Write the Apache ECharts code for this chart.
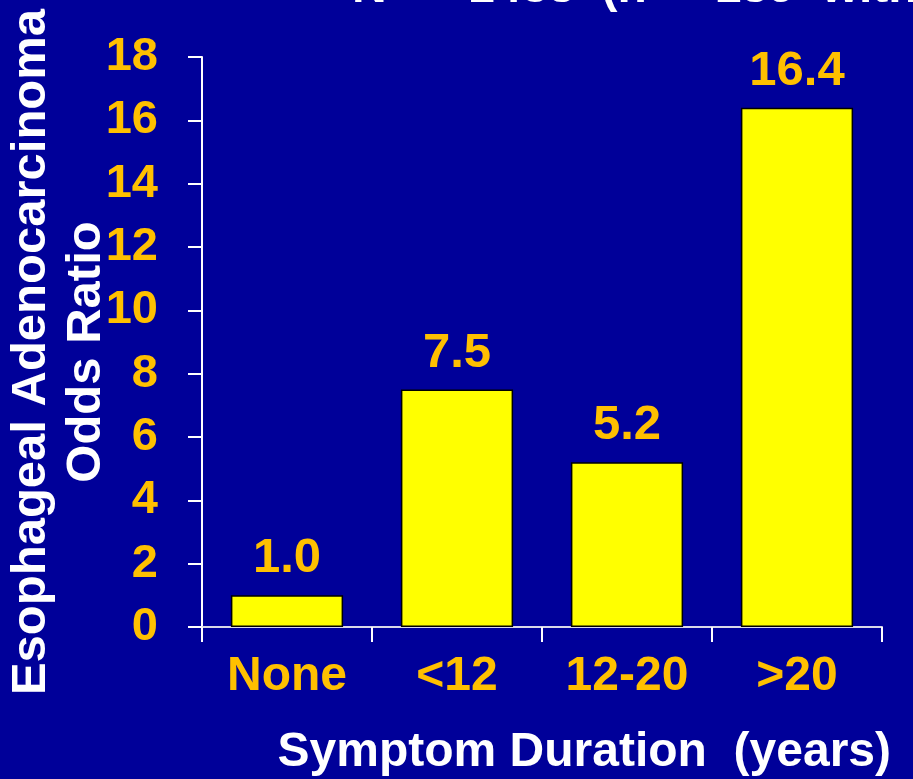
<!DOCTYPE html>
<html><head><meta charset="utf-8">
<script src="https://cdn.jsdelivr.net/npm/echarts@6/dist/echarts.min.js"></script>
<style>html,body{margin:0;padding:0;background:#000099;}#c{width:913px;height:779px;}</style>
</head><body><div id="c"></div>
<script>
var categories = ['None', '<12', '12-20', '>20'];
var oddsRatios = [1.0, 7.5, 5.2, 16.4];
var valueLabels = ['1.0', '7.5', '5.2', '16.4'];
var yTicks = [0, 2, 4, 6, 8, 10, 12, 14, 16, 18];
var titleText = 'N  =  1438  (n  = 189  with esophageal adenocarcinoma)';

var gold = '#FFC000';
var font = 'Liberation Sans, Arial, sans-serif';
var chart = echarts.init(document.getElementById('c'));
chart.setOption({
  backgroundColor: '#000099',
  animation: false,
  graphic: [{
    type: 'text', x: 352, y: -35,
    style: { text: titleText, fill: '#ffffff', font: 'bold 48px ' + font }
  }],
  grid: { left: 202, right: 31, top: 57, bottom: 152, containLabel: false, outerBoundsMode: 'none' },
  xAxis: {
    type: 'category', data: categories,
    axisLine: { lineStyle: { color: '#d8d8e8', width: 2 } },
    axisTick: { show: true, length: 15, lineStyle: { color: '#ffffff', width: 2 } },
    axisLabel: { color: gold, fontFamily: font, fontWeight: 'bold', fontSize: 48, margin: 26 },
    name: 'Symptom Duration  (years)', nameLocation: 'end', nameMoveOverlap: false,
    nameTextStyle: { color: '#ffffff', fontFamily: font, fontWeight: 'bold', fontSize: 48,
      align: 'right', verticalAlign: 'top', padding: [102, 0, 0, 0],
      textShadowColor: '#000000', textShadowOffsetX: 2, textShadowOffsetY: 2, textShadowBlur: 0 },
    nameGap: 9
  },
  yAxis: {
    type: 'value', min: 0, max: 18, interval: 2,
    axisLine: { show: true, lineStyle: { color: '#ffffff', width: 2 } },
    axisTick: { show: true, length: 14, lineStyle: { color: '#ffffff', width: 2 } },
    splitLine: { show: false },
    axisLabel: { color: gold, fontFamily: font, fontWeight: 'bold', fontSize: 47, margin: 44,
      formatter: function (v) { return yTicks.indexOf(v) >= 0 ? String(v) : ''; } },
    name: 'Esophageal Adenocarcinoma\nOdds Ratio', nameLocation: 'middle', nameGap: 88, nameRotate: 90,
    nameMoveOverlap: false,
    nameTextStyle: { color: '#ffffff', fontFamily: font, fontWeight: 'bold', fontSize: 49, lineHeight: 55,
      padding: [0, 20, 0, 0] }
  },
  series: [{
    type: 'bar', data: oddsRatios, barWidth: '66%',
    itemStyle: { color: '#FFFF00', borderColor: '#000000', borderWidth: 1.5 },
    label: { show: true, position: 'top', distance: 12, color: gold, fontFamily: font,
      fontWeight: 'bold', fontSize: 49,
      formatter: function (p) { return valueLabels[p.dataIndex]; } }
  }]
});
</script></body></html>
